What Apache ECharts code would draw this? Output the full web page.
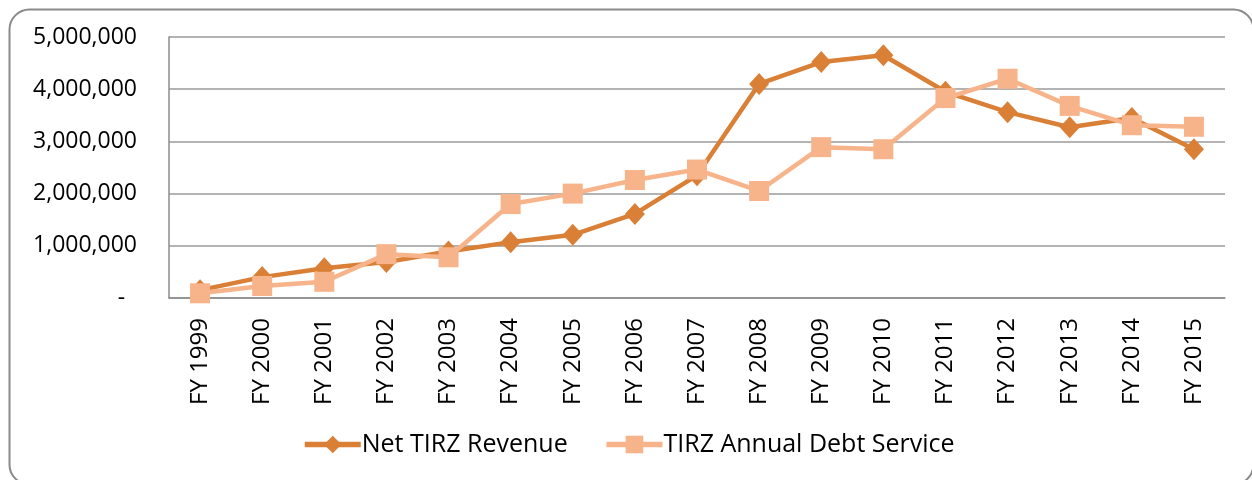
<!DOCTYPE html>
<html>
<head>
<meta charset="utf-8">
<script src="https://cdn.jsdelivr.net/npm/echarts@6/dist/echarts.min.js"></script>
<style>
html,body{margin:0;padding:0;background:#fff;}
#chart{width:1252px;height:480px;}
</style>
</head>
<body>
<div id="chart"></div>
<script>
const categories = ['FY 1999','FY 2000','FY 2001','FY 2002','FY 2003','FY 2004','FY 2005','FY 2006','FY 2007','FY 2008','FY 2009','FY 2010','FY 2011','FY 2012','FY 2013','FY 2014','FY 2015'];
const netRevenue = [150000, 400000, 570000, 690000, 890000, 1070000, 1210000, 1610000, 2350000, 4100000, 4520000, 4650000, 3950000, 3560000, 3270000, 3450000, 2850000];
const debtService = [90000, 230000, 310000, 840000, 780000, 1800000, 2000000, 2260000, 2460000, 2050000, 2890000, 2850000, 3830000, 4200000, 3680000, 3310000, 3280000];
const seriesNames = ['Net TIRZ Revenue', 'TIRZ Annual Debt Service'];

const FONT = '"Open Sans", sans-serif';
const chart = echarts.init(document.getElementById('chart'));
chart.setOption({
  animation: false,
  backgroundColor: '#fff',
  graphic: [{
    type: 'rect',
    left: 7, top: 7,
    shape: { x: 0, y: 0, width: 1244, height: 475, r: 20 },
    style: { fill: 'none', stroke: '#8a8a8a', lineWidth: 2 },
    silent: true, z: -1
  }],
  grid: { left: 169, right: 27, top: 37, bottom: 182, containLabel: false },
  legend: {
    left: 297, top: 427,
    itemWidth: 56, itemHeight: 22, itemGap: 36,
    lineStyle: { width: 5.5 },
    textStyle: { fontFamily: FONT, fontSize: 25, color: '#000', padding: [0,0,0,-4] },
    data: seriesNames
  },
  xAxis: {
    type: 'category',
    data: categories,
    boundaryGap: true,
    axisLine: { show: true, lineStyle: { color: '#8c8c8c', width: 1.5 } },
    axisTick: { show: false },
    axisLabel: { rotate: 90, margin: 20, fontFamily: FONT, fontSize: 24, color: '#000', interval: 0 }
  },
  yAxis: {
    type: 'value',
    min: 0, max: 5000000, interval: 1000000,
    axisLine: { show: true, lineStyle: { color: '#8c8c8c', width: 1.5 } },
    axisTick: { show: false },
    splitLine: { lineStyle: { color: '#9a9a9a', width: 1.5 } },
    axisLabel: {
      margin: 32, fontFamily: FONT, fontSize: 23, color: '#000',
      formatter: v => v === 0 ? '-  ' : v.toLocaleString('en-US')
    }
  },
  series: [
    {
      name: seriesNames[0], type: 'line', data: netRevenue,
      symbol: 'diamond', symbolSize: [20, 22],
      lineStyle: { color: '#DA7F36', width: 4.5 },
      itemStyle: { color: '#DA7F36' }
    },
    {
      name: seriesNames[1], type: 'line', data: debtService,
      symbol: 'rect', symbolSize: 20,
      lineStyle: { color: '#F7B48A', width: 4.5 },
      itemStyle: { color: '#F7B48A' }
    }
  ]
});
</script>
</body>
</html>
